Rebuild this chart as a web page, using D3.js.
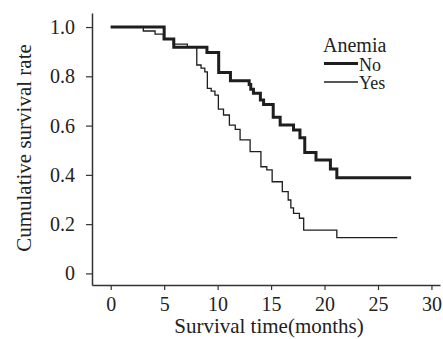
<!DOCTYPE html>
<html>
<head>
<meta charset="utf-8">
<script src="https://cdn.jsdelivr.net/npm/d3@7"></script>
<style>
  body { margin: 0; background: #fff; }
  svg text { font-family: "Liberation Serif", "DejaVu Serif", "Times New Roman", serif; fill: #222; }
</style>
</head>
<body>
<svg id="chart" width="443" height="339"></svg>
<script>
// Kaplan-Meier step data
var groups = ["No", "Yes"];

var noTimes = [0, 5.0, 5.9, 9.0, 10.1, 11.2, 12.95, 13.1, 13.35, 14.0, 14.3, 15.2, 15.85, 17.1, 17.7, 18.15, 19.2, 20.55, 21.15, 28.1];
var noSurv  = [1.0, 0.951, 0.918, 0.897, 0.816, 0.782, 0.767, 0.748, 0.731, 0.704, 0.686, 0.634, 0.602, 0.582, 0.551, 0.491, 0.460, 0.424, 0.388, 0.388];

var yesTimes = [0, 3.05, 4.15, 4.93, 5.86, 7.17, 8.05, 8.45, 8.8, 9.04, 9.4, 9.75, 10.07, 10.55, 11.1, 11.65, 12.1, 13.04, 14.05, 14.6, 15.1, 16.05, 16.6, 16.85, 17.1, 17.65, 18.05, 21.15, 26.8];
var yesSurv  = [1.0, 0.984, 0.971, 0.951, 0.931, 0.918, 0.846, 0.833, 0.818, 0.751, 0.740, 0.724, 0.667, 0.643, 0.602, 0.585, 0.542, 0.494, 0.433, 0.420, 0.372, 0.332, 0.298, 0.266, 0.244, 0.224, 0.176, 0.145, 0.145];

var xTicks = [0, 5, 10, 15, 20, 25, 30];
var yTicks = [0, 0.2, 0.4, 0.6, 0.8, 1.0];

var serif = "'Liberation Serif', 'DejaVu Serif', 'Times New Roman', serif";

var svg = d3.select("#chart");

var xScale = d3.scaleLinear().domain([-1.75, 30.8]).range([92, 440]);
var yScale = d3.scaleLinear().domain([-0.047, 1.057]).range([285, 13]);

// axes
var xAxis = d3.axisBottom(xScale)
    .tickValues(xTicks)
    .tickSizeInner(5)
    .tickSizeOuter(0)
    .tickPadding(7)
    .tickFormat(d3.format("d"));

var yAxis = d3.axisLeft(yScale)
    .tickValues(yTicks)
    .tickSizeInner(6)
    .tickSizeOuter(0)
    .tickPadding(11)
    .tickFormat(function(d) { return d === 0 ? "0" : d3.format(".1f")(d); });

var gx = svg.append("g").attr("transform", "translate(0,285)").call(xAxis);
var gy = svg.append("g").attr("transform", "translate(92,0)").call(yAxis);

[gx, gy].forEach(function(g) {
    g.attr("font-family", serif).attr("font-size", 20);
    g.select(".domain").attr("stroke", "#333").attr("stroke-width", 1.5);
    g.selectAll(".tick line").attr("stroke", "#333").attr("stroke-width", 1.2);
    g.selectAll(".tick text")
        .style("font-family", serif)
        .style("font-size", "20px")
        .attr("fill", "#222");
});

// axis titles
svg.append("text")
    .attr("x", (xScale(30.8) + xScale(-1.75)) / 2 + 3)
    .attr("y", 333)
    .attr("text-anchor", "middle")
    .style("font-family", serif)
    .style("font-size", "21px")
    .text("Survival time(months)");

svg.append("text")
    .attr("transform", "translate(31,148) rotate(-90)")
    .attr("text-anchor", "middle")
    .style("font-family", serif)
    .style("font-size", "21px")
    .text("Cumulative survival rate");

// survival curves
var line = d3.line()
    .x(function(d) { return xScale(d[0]); })
    .y(function(d) { return yScale(d[1]); })
    .curve(d3.curveStepAfter);

var series = [
    { name: "No", pts: d3.zip(noTimes, noSurv), width: 3 },
    { name: "Yes", pts: d3.zip(yesTimes, yesSurv), width: 1.3 }
];

svg.selectAll(".km")
    .data(series)
    .enter()
    .append("path")
    .attr("class", "km")
    .attr("d", function(d) { return line(d.pts); })
    .attr("fill", "none")
    .attr("stroke", "#1e1e1e")
    .attr("stroke-width", function(d) { return d.width; });

// legend
var legend = svg.append("g");
legend.append("text")
    .attr("x", 323)
    .attr("y", 52)
    .style("font-family", serif)
    .style("font-size", "20px")
    .text("Anemia");

var items = legend.selectAll(".item")
    .data(series)
    .enter()
    .append("g")
    .attr("class", "item")
    .attr("transform", function(d, i) { return "translate(0," + (63.5 + i * 18.5) + ")"; });

items.append("line")
    .attr("x1", 324).attr("x2", 358)
    .attr("stroke", "#1e1e1e")
    .attr("stroke-width", function(d) { return d.width; });

items.append("text")
    .attr("x", 359)
    .attr("y", 7)
    .style("font-family", serif)
    .style("font-size", "18px")
    .text(function(d) { return d.name; });
</script>
</body>
</html>
